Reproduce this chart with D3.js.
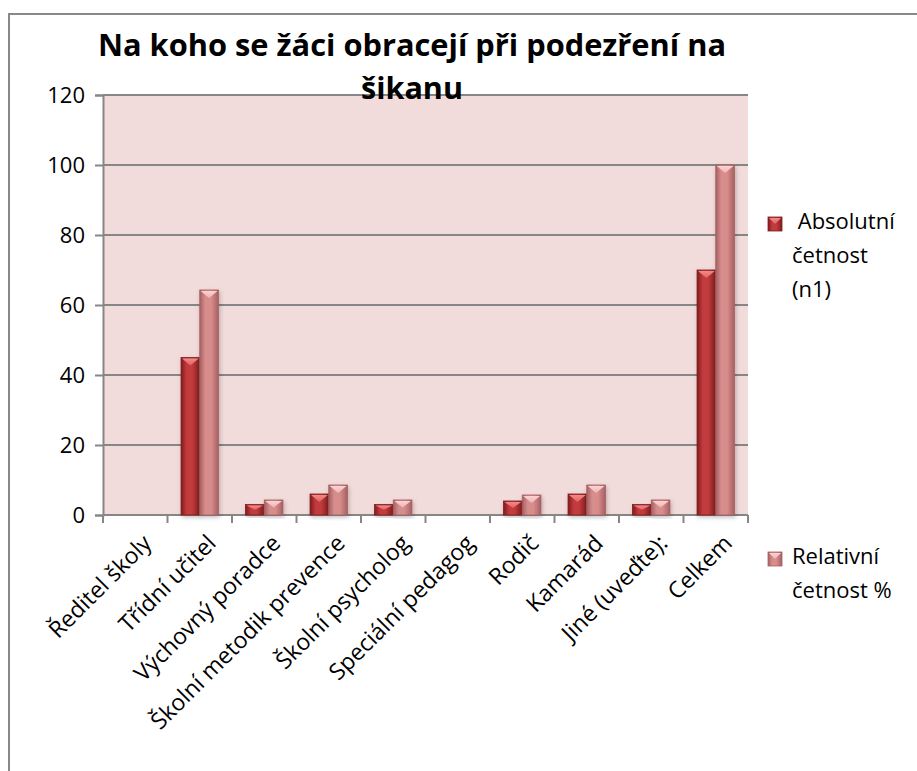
<!DOCTYPE html>
<html>
<head>
<meta charset="utf-8">
<script src="https://cdn.jsdelivr.net/npm/d3@7"></script>
<style>
  body { margin: 0; background: #fff; }
  text { font-family: "Open Sans", "DejaVu Sans", sans-serif; fill: #000; }
</style>
</head>
<body>
<svg id="chart" width="917" height="771"></svg>
<script>
// chart data
let categories = ["Ředitel školy", "Třídní učitel", "Výchovný poradce", "Školní metodik prevence",
    "Školní psycholog", "Speciální pedagog", "Rodič", "Kamarád", "Jiné (uveďte):", "Celkem"];
let absolutni = [0, 45, 3, 6, 3, 0, 4, 6, 3, 70];
let relativni = [0, 64.29, 4.29, 8.57, 4.29, 0, 5.71, 8.57, 4.29, 100];
let seriesNames = [[" Absolutní", "četnost", "(n1)"], ["Relativní", "četnost %"]];
let yTicks = [0, 20, 40, 60, 80, 100, 120];
let titleLines = ["Na koho se žáci obracejí při podezření na", "šikanu"];

let svg = d3.select("#chart");
let width = +svg.attr("width");
let height = +svg.attr("height");

let plot = { left: 103, right: 748, top: 95, bottom: 515 };
let gridColor = "#868686";

// colours per series: edge, centre, bevel
let palette = [
    { edge: "#7e1c1e", mid: "#c23a3c", bevel: "#e46060", top: "#f08a8a" },
    { edge: "#a66061", mid: "#d88d8d", bevel: "#f0b2b2", top: "#fbd3d3" }
];

// outer frame
svg.append("rect")
    .attr("x", 9).attr("y", 14)
    .attr("width", width + 20).attr("height", height + 20)
    .attr("fill", "#fff")
    .attr("stroke", "#898989")
    .attr("stroke-width", 2);

// gradients
let defs = svg.append("defs");
palette.forEach((p, i) => {
    let g = defs.append("linearGradient").attr("id", "bar" + i)
        .attr("x1", "0%").attr("x2", "100%").attr("y1", "0%").attr("y2", "0%");
    g.append("stop").attr("offset", "0%").attr("stop-color", p.edge);
    g.append("stop").attr("offset", "30%").attr("stop-color", p.mid);
    g.append("stop").attr("offset", "60%").attr("stop-color", p.mid);
    g.append("stop").attr("offset", "100%").attr("stop-color", p.edge);
    let b = defs.append("linearGradient").attr("id", "bev" + i)
        .attr("x1", "0%").attr("x2", "0%").attr("y1", "0%").attr("y2", "100%");
    b.append("stop").attr("offset", "0%").attr("stop-color", p.top);
    b.append("stop").attr("offset", "100%").attr("stop-color", p.bevel);
});
let shadow = defs.append("filter").attr("id", "shadow")
    .attr("x", "-30%").attr("y", "-10%").attr("width", "160%").attr("height", "130%");
shadow.append("feDropShadow")
    .attr("dx", 1).attr("dy", 2).attr("stdDeviation", 2)
    .attr("flood-color", "#000").attr("flood-opacity", 0.25);

// scales
let x = d3.scaleBand()
    .domain(categories)
    .range([plot.left, plot.right])
    .paddingInner(0).paddingOuter(0);

let y = d3.scaleLinear()
    .domain([0, 120])
    .range([plot.bottom, plot.top]);

let barW = x.bandwidth() * 0.29;

// plot background
svg.append("rect")
    .attr("x", plot.left).attr("y", plot.top)
    .attr("width", plot.right - plot.left).attr("height", plot.bottom - plot.top)
    .attr("fill", "#f2dcdb");

// gridlines
svg.append("g")
    .selectAll("line")
    .data(yTicks.filter(t => t > 0))
    .join("line")
    .attr("x1", plot.left).attr("x2", plot.right)
    .attr("y1", d => y(d)).attr("y2", d => y(d))
    .attr("stroke", gridColor).attr("stroke-width", 2);

// y axis
let yAxis = svg.append("g")
    .attr("transform", "translate(" + plot.left + ",0)")
    .call(d3.axisLeft(y).tickValues(yTicks).tickSize(8).tickPadding(10));
yAxis.select(".domain").attr("stroke", gridColor).attr("stroke-width", 2);
yAxis.selectAll(".tick line").attr("stroke", gridColor).attr("stroke-width", 2);
yAxis.selectAll(".tick text")
    .style("font-family", "'Open Sans', sans-serif")
    .style("font-size", "22px")
    .attr("fill", "#000");

// x axis line + ticks at band edges
let edges = categories.map(c => x(c)).concat([plot.right]);
svg.append("line")
    .attr("x1", plot.left).attr("x2", plot.right)
    .attr("y1", plot.bottom).attr("y2", plot.bottom)
    .attr("stroke", gridColor).attr("stroke-width", 2);
svg.append("g")
    .selectAll("line")
    .data(edges)
    .join("line")
    .attr("x1", d => d).attr("x2", d => d)
    .attr("y1", plot.bottom).attr("y2", plot.bottom + 8)
    .attr("stroke", gridColor).attr("stroke-width", 2);

// bars
function drawBar(g, x0, val, idx) {
    if (val <= 0) return;
    let top = y(val);
    let h = plot.bottom - top;
    g.append("rect")
        .attr("x", x0).attr("y", top)
        .attr("width", barW).attr("height", h)
        .attr("fill", "url(#bar" + idx + ")")
        .attr("stroke", palette[idx].edge).attr("stroke-width", 0.8)
        .attr("filter", "url(#shadow)");
    let bev = Math.min(8, h / 2);
    g.append("polygon")
        .attr("points", [[x0 + 1, top + 1], [x0 + barW - 1, top + 1], [x0 + barW / 2, top + bev]].join(" "))
        .attr("fill", "url(#bev" + idx + ")");
}

let bars = svg.append("g");
categories.forEach((c, i) => {
    let mid = x(c) + x.bandwidth() / 2;
    drawBar(bars, mid - barW, absolutni[i], 0);
    drawBar(bars, mid, relativni[i], 1);
});

// x labels rotated
svg.append("g")
    .selectAll("text")
    .data(categories)
    .join("text")
    .attr("transform", d => "translate(" + (x(d) + x.bandwidth() / 2 + 6) + "," + (plot.bottom + 18) + ") rotate(-45)")
    .attr("text-anchor", "end")
    .attr("dy", "0.72em")
    .style("font-size", "23px")
    .text(d => d);

// title
let title = svg.append("g");
titleLines.forEach((t, i) => {
    let txt = title.append("text")
        .attr("x", 412)
        .attr("y", 56 + i * 43)
        .attr("text-anchor", "middle")
        .style("font-family", "'Open Sans', sans-serif")
        .style("font-weight", "bold")
        .style("font-size", "31px")
        .text(t);
    if (i === 0) txt.attr("textLength", 628).attr("lengthAdjust", "spacingAndGlyphs");
    else txt.attr("textLength", 102).attr("lengthAdjust", "spacingAndGlyphs");
});

// legend
let legendY = [217, 552];
seriesNames.forEach((lines, i) => {
    let lg = svg.append("g").attr("transform", "translate(768," + legendY[i] + ")");
    lg.append("rect")
        .attr("width", 14).attr("height", 14)
        .attr("fill", "url(#bar" + i + ")")
        .attr("stroke", palette[i].edge).attr("stroke-width", 0.8);
    lg.append("polygon")
        .attr("points", "1,1 13,1 7,7")
        .attr("fill", "url(#bev" + i + ")");
    lines.forEach((l, j) => {
        lg.append("text")
            .attr("x", 24)
            .attr("y", 12 + j * 34)
            .style("white-space", "pre")
            .attr("xml:space", "preserve")
            .style("font-size", "22px")
            .text(l);
    });
});
</script>
</body>
</html>
